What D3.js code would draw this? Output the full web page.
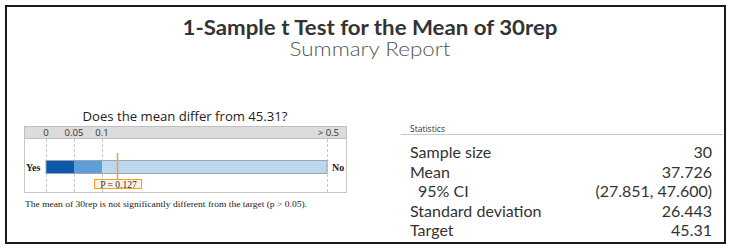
<!DOCTYPE html>
<html><head><meta charset="utf-8">
<script src="https://cdn.jsdelivr.net/npm/d3@7"></script>
<style>body{margin:0;background:#fff;}svg{display:block;}</style>
</head><body>
<svg id="c" width="732" height="251"></svg>
<script>
const title = "1-Sample t Test for the Mean of 30rep";
const subtitle = "Summary Report";
const question = "Does the mean differ from 45.31?";
const conclusion = "The mean of 30rep is not significantly different from the target (p > 0.05).";
const pBreaks = [0, 0.05, 0.1, 0.5];
const tickLabels = ["0", "0.05", "0.1", "> 0.5"];
const segColors = ["#0b58a8", "#5d9ed8", "#bcd7f0"];
const pValue = 0.127;
const statLabels = ["Sample size", "Mean", "  95% CI", "Standard deviation", "Target"];
const statValues = ["30", "37.726", "(27.851, 47.600)", "26.443", "45.31"];

const svg = d3.select("#c");
const F = "'Open Sans', 'Noto Sans', sans-serif";
const L = "Lato, 'Open Sans', sans-serif";

// frame
svg.append("rect").attr("x",6).attr("y",6).attr("width",719).attr("height",237)
  .attr("fill","#fff").attr("stroke","#1a1a1a").attr("stroke-width",2);

svg.append("text").attr("x",370).attr("y",35).attr("text-anchor","middle")
  .attr("font-family",L).attr("font-weight",700).attr("font-size",20).attr("fill","#333")
  .attr("textLength",375).attr("lengthAdjust","spacingAndGlyphs").text(title);
svg.append("text").attr("x",370).attr("y",56).attr("text-anchor","middle")
  .attr("font-family",L).attr("font-weight",300).attr("font-size",19).attr("fill","#555")
  .attr("textLength",161).attr("lengthAdjust","spacingAndGlyphs").text(subtitle);

// left panel
svg.append("text").attr("x",185).attr("y",121).attr("text-anchor","middle")
  .attr("font-family",F).attr("font-size",13.5).attr("font-weight",500).attr("fill","#222")
  .attr("textLength",205).attr("lengthAdjust","spacingAndGlyphs").text(question);

const px = d3.scaleLinear().domain(pBreaks).range([46, 74, 102, 327]);
const pTop = 126, hdrB = 138, pBot = 192, pL = 24, pR = 346;
svg.append("rect").attr("x",pL+0.5).attr("y",pTop+0.5).attr("width",pR-pL).attr("height",pBot-pTop)
  .attr("fill","#fff").attr("stroke","#c8c8c8");
svg.append("rect").attr("x",pL+0.5).attr("y",pTop+0.5).attr("width",pR-pL).attr("height",hdrB-pTop)
  .attr("fill","#dcdcdc").attr("stroke","#c0c0c0");

svg.selectAll(".grid").data(pBreaks).join("line")
  .attr("x1",d=>Math.round(px(d))+0.5).attr("x2",d=>Math.round(px(d))+0.5)
  .attr("y1",hdrB+1).attr("y2",pBot).attr("stroke","#c8c8c8").attr("stroke-dasharray","3,2");

svg.selectAll(".tl").data(pBreaks).join("text")
  .attr("x",(d,i)=> i===pBreaks.length-1 ? px(d)+12 : px(d))
  .attr("y",136).attr("text-anchor",(d,i)=> i===pBreaks.length-1 ? "end" : "middle")
  .attr("font-family",F).attr("font-size",9.5).attr("fill","#333")
  .text((d,i)=>tickLabels[i]);

const barY = 160, barH = 14;
const segs = d3.pairs(pBreaks);
svg.selectAll(".seg").data(segs).join("rect")
  .attr("x",d=>px(d[0])).attr("width",d=>px(d[1])-px(d[0]))
  .attr("y",barY).attr("height",barH).attr("fill",(d,i)=>segColors[i]);
svg.append("rect").attr("x",px(0)).attr("y",barY+0.5).attr("width",px(0.5)-px(0)).attr("height",barH-1)
  .attr("fill","none").attr("stroke","#9aa6b2").attr("stroke-width",1);

svg.append("text").attr("x",26).attr("y",171).attr("font-family","'Liberation Serif', serif")
  .attr("font-weight","bold").attr("font-size",10).attr("fill","#222").text("Yes");
svg.append("text").attr("x",332).attr("y",171).attr("font-family","'Liberation Serif', serif")
  .attr("font-weight","bold").attr("font-size",10).attr("fill","#222").text("No");

const ox = Math.round(px(pValue))+0.5;
svg.append("line").attr("x1",ox).attr("x2",ox).attr("y1",153).attr("y2",179)
  .attr("stroke","#f0a030").attr("stroke-width",1.5);
svg.append("rect").attr("x",ox-23).attr("y",179.5).attr("width",47).attr("height",9)
  .attr("fill","#fdf1dd").attr("stroke","#f0a030");
svg.append("text").attr("x",ox+1).attr("y",187.5).attr("text-anchor","middle")
  .attr("font-family","'Liberation Serif', serif").attr("font-size",9.5).attr("fill","#333")
  .text("P = " + pValue.toFixed(3));

svg.append("text").attr("x",25).attr("y",207).attr("font-family","'Liberation Serif', serif")
  .attr("font-size",8.5).attr("fill","#222")
  .attr("textLength",282).attr("lengthAdjust","spacingAndGlyphs").text(conclusion);

// statistics
svg.append("text").attr("x",410).attr("y",132).attr("font-family",F).attr("font-size",8.5)
  .attr("fill","#333").text("Statistics");
svg.append("line").attr("x1",401).attr("x2",723).attr("y1",134.5).attr("y2",134.5)
  .attr("stroke","#c8c8c8");

const ry = d3.scalePoint().domain(statLabels).range([158, 236]);
svg.selectAll(".sl").data(statLabels).join("text")
  .attr("x",d=> d.startsWith("  ") ? 418 : 410).attr("y",d=>ry(d))
  .attr("font-family",L).attr("font-size",16).attr("fill","#333")
  .text(d=>d.trim());
svg.selectAll(".sv").data(statValues).join("text")
  .attr("x",712).attr("y",(d,i)=>ry(statLabels[i])).attr("text-anchor","end")
  .attr("font-family",L).attr("font-size",16).attr("fill","#333")
  .text(d=>d);
</script>
</body></html>
